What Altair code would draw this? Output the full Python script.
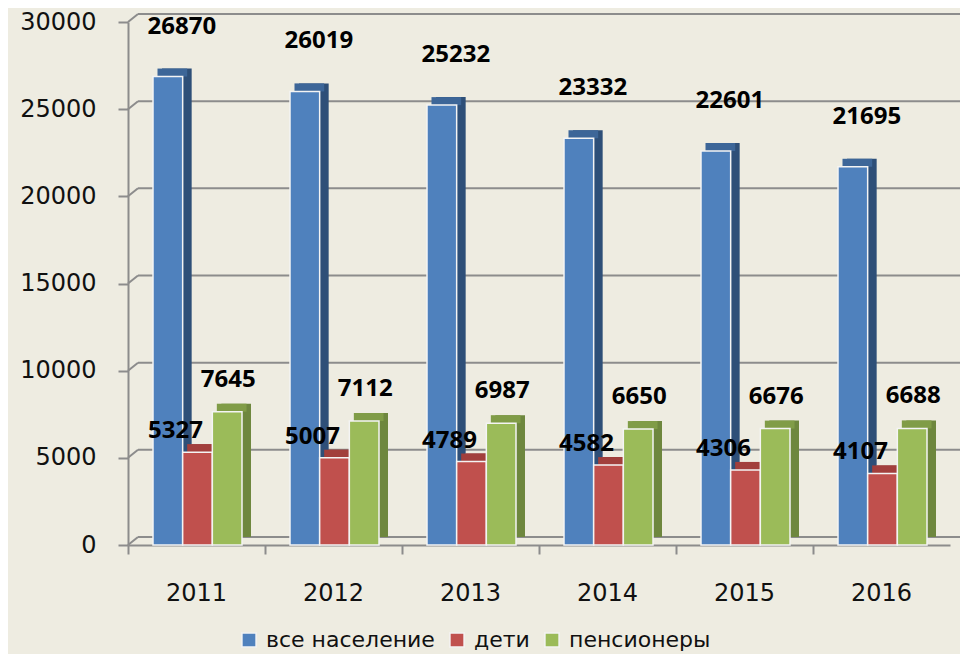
import altair as alt
import pandas as pd

years = ["2011", "2012", "2013", "2014", "2015", "2016"]
series = ["все население", "дети", "пенсионеры"]
vse = [26870, 26019, 25232, 23332, 22601, 21695]
deti = [5327, 5007, 4789, 4582, 4306, 4107]
pens = [7645, 7112, 6987, 6650, 6676, 6688]
grid_values = [0, 5000, 10000, 15000, 20000, 25000, 30000]

front_colors = ["#4F81BD", "#C0504D", "#9BBB59"]
side_colors = ["#2E4F78", "#8A3634", "#6E873E"]
top_colors = ["#3D6698", "#A23F3C", "#809C47"]

rows = []
for name, vals in zip(series, [vse, deti, pens]):
    for y, v in zip(years, vals):
        rows.append({"year": y, "series": name, "value": v})
df = pd.DataFrame(rows)
grid_df = pd.DataFrame({"g": grid_values})

W, H = 822, 523
BAND = 89
START = 25
FONT = "DejaVu Sans"
LABEL_FONT = "Open Sans"

x_enc = alt.X("year:N", sort=years,
              scale=alt.Scale(paddingInner=0, paddingOuter=0),
              axis=alt.Axis(title=None, labelFontSize=24, labelFont=FONT, labelColor="#111",
                            labelAngle=0, bandPosition=0, tickSize=9, tickWidth=2,
                            tickColor="#8C8C8C", domainColor="#8C8C8C", domainWidth=2,
                            labelPadding=27, grid=False))
y_scale = alt.Scale(domain=[0, 30000], nice=False)
y_axis = alt.Axis(title=None, values=grid_values, format="d", labelFontSize=24, labelFont=FONT,
                  labelColor="#111", tickSize=10, tickWidth=2, tickColor="#8C8C8C",
                  domainColor="#8C8C8C", domainWidth=2, labelPadding=22, grid=False)
y_enc = alt.Y("value:Q", scale=y_scale, axis=y_axis)


def xoff(shift):
    return alt.XOffset("series:N", sort=series,
                       scale=alt.Scale(domain=series, range=[START + shift, START + BAND + shift],
                                       paddingInner=0, paddingOuter=0))


base = alt.Chart(df)

grid = alt.Chart(grid_df).mark_rule(color="#8C8C8C", strokeWidth=2, yOffset=-8).encode(
    y=alt.Y("g:Q", scale=y_scale, axis=y_axis),
    x=alt.value(10), x2=alt.value(W + 10))
diag = alt.Chart(grid_df).mark_rule(color="#8C8C8C", strokeWidth=2, y2Offset=-8).encode(
    y=alt.Y("g:Q", scale=y_scale, axis=y_axis), y2=alt.Y2("g"),
    x=alt.value(0), x2=alt.value(10))

side = base.mark_bar(yOffset=-8, y2Offset=-8).encode(
    x=x_enc, y=y_enc, xOffset=xoff(9),
    color=alt.Color("series:N", sort=series,
                    scale=alt.Scale(domain=series, range=side_colors), legend=None))

top = base.mark_bar(yOffset=-8).encode(
    x=x_enc, y=y_enc, y2=alt.Y2("value"), xOffset=xoff(4.5),
    color=alt.Color("series:N", sort=series,
                    scale=alt.Scale(domain=series, range=top_colors), legend=None))

front = base.mark_bar(stroke="#F4F4F4", strokeWidth=1.5).encode(
    x=x_enc, y=y_enc, xOffset=xoff(0),
    color=alt.Color("series:N", sort=series,
                    scale=alt.Scale(domain=series, range=front_colors),
                    legend=alt.Legend(title=None, orient="none", direction="horizontal",
                                      legendX=110, legendY=607, symbolType="square",
                                      symbolSize=200, symbolStrokeColor="#F4F4F4",
                                      symbolStrokeWidth=1.5, labelFontSize=22,
                                      labelFont=FONT, labelColor="#111", labelOffset=6,
                                      columnPadding=11, labelLimit=400)))

sub = BAND / 3


def labels(name, dx, dy):
    return base.transform_filter(alt.datum.series == name).mark_text(
        font=LABEL_FONT, fontWeight="bold", fontSize=24, color="#000",
        dx=dx, dy=dy, baseline="middle").encode(
        x=x_enc, y=y_enc,
        xOffset=alt.XOffset("series:N", sort=series,
                            scale=alt.Scale(type="point", domain=series,
                                            range=[START + sub / 2, START + BAND - sub / 2],
                                            padding=0)),
        text=alt.Text("value:Q", format="d"))


chart = alt.layer(
    grid, diag, side, top, front,
    labels(series[0], 14, -50), labels(series[1], -22, -21), labels(series[2], 1, -32)
).resolve_scale(color="independent", xOffset="independent").properties(
    width=W, height=H,
    autosize=alt.AutoSizeParams(type="none"),
    padding={"left": 120, "top": 14, "right": 10, "bottom": 109},
    background="#EEECE1"
).configure_view(stroke=None)

chart.save("out.html", embed_options={"renderer": "svg", "actions": False})
